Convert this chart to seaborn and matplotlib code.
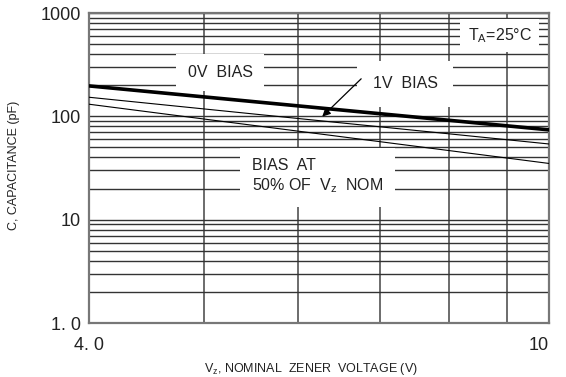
import numpy as np
import pandas as pd
import matplotlib
matplotlib.use("Agg")
import matplotlib.pyplot as plt
import matplotlib.ticker as mticker
import seaborn as sns

# ---- data ----
vz = [4.0, 10.0]                     # nominal zener voltage (V)
c_0v = [197.0, 74.0]                 # 0 V bias capacitance (pF)
c_1v = [153.0, 54.0]                 # 1 V bias
c_50 = [131.0, 35.0]                 # bias at 50% of Vz nom
series_names = ["0V BIAS", "1V BIAS", "50% VZ"]

x_tick_vals = [4.0, 10.0]
x_tick_labels = ["4. 0", "10"]
y_tick_vals = [1, 10, 100, 1000]
y_tick_labels = ["1. 0", "10", "100", "1000"]
x_grid_vals = [5.03, 6.06, 7.14, 8.2, 9.2]

df = pd.DataFrame({
    "Vz": vz * 3,
    "C": c_0v + c_1v + c_50,
    "series": [s for s in series_names for _ in vz],
})

sns.set_style("white")
plt.rcParams["font.family"] = ["Liberation Sans", "DejaVu Sans"]
plt.rcParams["mathtext.fontset"] = "custom"
plt.rcParams["mathtext.rm"] = "Liberation Sans"

fig = plt.figure(figsize=(5.66, 3.77), dpi=100)
ax = fig.add_axes([89 / 566, 1 - 323 / 377, 460 / 566, 310 / 377])

widths = {"0V BIAS": 2.6, "1V BIAS": 0.8, "50% VZ": 0.8}
for name in series_names:
    sub = df[df["series"] == name]
    sns.lineplot(data=sub, x="Vz", y="C", ax=ax, color="black",
                 linewidth=widths[name], zorder=5, legend=False)

ax.set_xscale("log")
ax.set_yscale("log")
ax.set_xlim(4, 10)
ax.set_ylim(1, 1000)

ax.xaxis.set_major_locator(mticker.FixedLocator(x_tick_vals))
ax.xaxis.set_major_formatter(mticker.FixedFormatter(x_tick_labels))
ax.xaxis.set_minor_locator(mticker.FixedLocator(x_grid_vals))
ax.xaxis.set_minor_formatter(mticker.NullFormatter())
ax.yaxis.set_major_locator(mticker.FixedLocator(y_tick_vals))
ax.yaxis.set_major_formatter(mticker.FixedFormatter(y_tick_labels))
ax.yaxis.set_minor_locator(mticker.LogLocator(base=10, subs=np.arange(2, 10)))
ax.yaxis.set_minor_formatter(mticker.NullFormatter())

ax.tick_params(axis="both", which="both", length=0, labelsize=13, colors="#222222")
ax.tick_params(axis="y", pad=6)
ax.tick_params(axis="x", pad=10)
xl = ax.get_xticklabels()
xl[0].set_ha("center")
xl[1].set_ha("right")

ax.set_axisbelow(True)
ax.grid(axis="y", which="both", color="#333333", linewidth=1.0)
ax.grid(axis="x", which="minor", color="#444444", linewidth=1.1)
ax.grid(axis="x", which="major", visible=False)

for sp in ax.spines.values():
    sp.set_color("#777777")
    sp.set_linewidth(1.6)

ax.set_xlabel("")
ax.set_ylabel("")
fig.text(311 / 566, 1 - 369 / 377, "V$_{\\rm z}$, NOMINAL  ZENER  VOLTAGE (V)",
         ha="center", va="center", fontsize=9, color="#222222")
fig.text(14 / 566, 1 - 165 / 377, "C, CAPACITANCE (pF)", rotation=90,
         ha="center", va="center", fontsize=9, color="#222222")

fs = 11.5
box = lambda p: dict(boxstyle="square,pad=%s" % p, facecolor="white", edgecolor="none")
ax.text(0.285, 0.808, "0V  BIAS", transform=ax.transAxes, ha="center", va="center",
        fontsize=fs, color="#222222", bbox=box(0.7), zorder=3)
ax.text(0.687, 0.771, "1V  BIAS", transform=ax.transAxes, ha="center", va="center",
        fontsize=fs, color="#222222", bbox=box(0.95), zorder=3)
ax.text(0.893, 0.926, "T$_{\\rm A}$=25°C", transform=ax.transAxes, ha="center", va="center",
        fontsize=fs, color="#222222", bbox=box(0.45), zorder=3)
ax.text(0.354, 0.4726, "BIAS  AT\n50% OF  V$_{\\rm z}$  NOM", transform=ax.transAxes,
        ha="left", va="center", fontsize=fs, color="#222222", linespacing=1.2,
        bbox=box(0.75), zorder=3)

# arrow tip on the 1V curve (interpolated in log space)
x_tip = 6.34
lx = np.log10(vz)
y_tip = 10 ** np.interp(np.log10(x_tip), lx, np.log10(c_1v)) * 1.05
ax.annotate("", xy=(x_tip, y_tip), xycoords="data",
            xytext=(0.596, 0.794), textcoords="axes fraction",
            arrowprops=dict(arrowstyle="-|>", color="black", lw=0.9,
                            mutation_scale=12), zorder=6)

fig.savefig("out.png", dpi=100)
